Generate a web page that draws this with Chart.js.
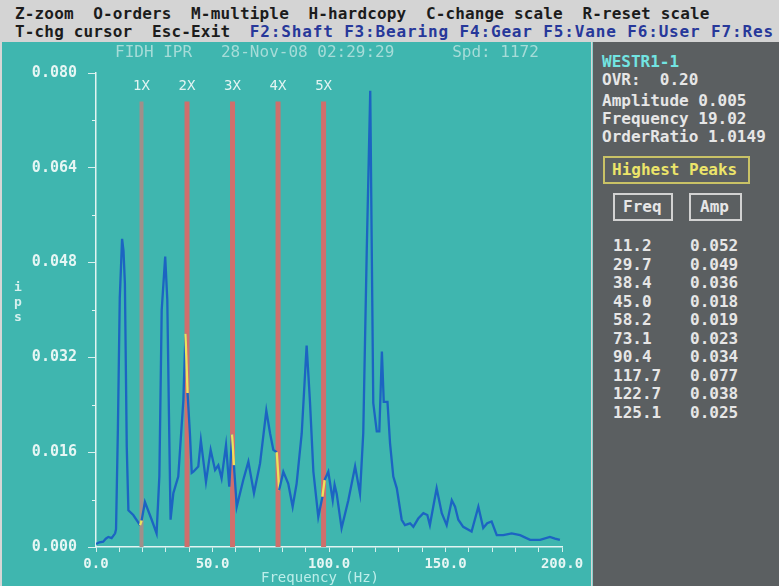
<!DOCTYPE html>
<html>
<head>
<meta charset="utf-8">
<script src="https://cdn.jsdelivr.net/npm/chart.js@4.4.1/dist/chart.umd.min.js"></script>
<style>
  body { margin: 0; background: #d6d6d6; width: 779px; height: 586px; overflow: hidden;
         font-family: "DejaVu Sans Mono", monospace; }
  #menu { position: absolute; left: 0; top: 0; width: 779px; height: 42px; background: #d4d4d4;
          font-weight: bold; font-size: 16px; color: #1c1c1c; white-space: pre; }
  #menu div { position: absolute; left: 15px; height: 18px; line-height: 18px; letter-spacing: 0.15px; }
  #menu .fk { color: #27389a; letter-spacing: 0.85px; }
  #plot { position: absolute; left: 2px; top: 42px; width: 589px; height: 544px; background: #3fb6af; }
  #panel { position: absolute; left: 592px; top: 42px; width: 187px; height: 544px; background: #5b5f61;
           border-left: 1px solid #8fcfcb; font-weight: bold; font-size: 16px; color: #e6e6e6; white-space: pre; }
  #panel .t { position: absolute; height: 18px; line-height: 18px; }
  #panel .box { position: absolute; border: 2px solid #d2d2d2; box-sizing: border-box; }
</style>
</head>
<body>
<div id="menu">
  <div style="top:5px">Z-zoom  O-orders  M-multiple  H-hardcopy  C-change scale  R-reset scale</div>
  <div style="top:23px">T-chg cursor  Esc-Exit  <span class="fk">F2:Shaft F3:Bearing F4:Gear F5:Vane F6:User F7:Res</span></div>
</div>
<div id="plot"><canvas id="myChart"></canvas></div>
<div id="panel"></div>
<script>
// Spectrum: frequency (Hz) and amplitude (ips)
const freqHz = [0.0, 1.5, 3.1, 4.2, 5.3, 6.7, 8.2, 8.6, 9.4, 10.2, 11.2, 11.8, 12.4, 13.2, 13.9,
  16.0, 18.9, 19.6, 21.0, 23.9, 26.0, 27.2, 28.2, 29.7, 30.6, 31.3, 32.0, 33.2, 35.3, 37.5,
  38.4, 39.3, 40.3, 41.1, 41.8, 43.9, 45.0, 47.2, 49.2, 51.1, 52.5, 53.9, 55.8, 57.2, 58.4,
  59.2, 60.4, 63.2, 65.4, 67.8, 70.4, 73.1, 74.7, 76.1, 77.6, 78.6, 80.4, 82.5, 84.4, 86.1,
  88.3, 90.4, 91.8, 93.3, 95.4, 97.2, 98.1, 99.7, 101.6, 102.4, 103.3, 105.4, 108.3, 111.2,
  113.3, 114.7, 116.2, 117.7, 118.3, 119.0, 120.5, 121.6, 122.7, 123.5, 125.1, 126.2, 127.6,
  129.1, 131.2, 132.6, 134.8, 136.2, 138.3, 140.5, 142.2, 143.3, 146.2, 148.4, 150.5, 152.7,
  154.1, 155.5, 157.6, 161.2, 164.1, 166.2, 167.9, 169.8, 172.0, 174.8, 178.4, 182.0, 186.3,
  190.6, 194.8, 197.0, 199.1];
const ampIps = [0.0005, 0.0008, 0.0009, 0.0014, 0.0017, 0.0015, 0.0023, 0.0030, 0.0200, 0.0420,
  0.0520, 0.0500, 0.0445, 0.0169, 0.0062, 0.0054, 0.0037, 0.0045, 0.0076, 0.0046, 0.0023,
  0.0120, 0.0400, 0.0490, 0.0417, 0.0226, 0.0046, 0.0091, 0.0119, 0.0248, 0.0360, 0.0260,
  0.0192, 0.0125, 0.0127, 0.0136, 0.0180, 0.0110, 0.0164, 0.0130, 0.0138, 0.0116, 0.0172,
  0.0102, 0.0190, 0.0138, 0.0068, 0.0113, 0.0144, 0.0091, 0.0141, 0.0230, 0.0192, 0.0164,
  0.0160, 0.0096, 0.0127, 0.0107, 0.0068, 0.0107, 0.0192, 0.0340, 0.0248, 0.0127, 0.0051,
  0.0085, 0.0113, 0.0127, 0.0079, 0.0105, 0.0090, 0.0032, 0.0079, 0.0136, 0.0090, 0.0192,
  0.0500, 0.0770, 0.0524, 0.0243, 0.0195, 0.0195, 0.0330, 0.0245, 0.0245, 0.0175, 0.0119,
  0.0099, 0.0046, 0.0037, 0.0040, 0.0034, 0.0048, 0.0057, 0.0054, 0.0037, 0.0099, 0.0057,
  0.0037, 0.0079, 0.0068, 0.0046, 0.0034, 0.0026, 0.0068, 0.0032, 0.0040, 0.0043, 0.0020,
  0.0020, 0.0023, 0.0020, 0.0012, 0.0012, 0.0017, 0.0014, 0.0012];

// Order lines (Spd 1172 rpm -> 1X = 19.53 Hz)
const orderLabels = ["1X", "2X", "3X", "4X", "5X"];
const orderHz = [19.53, 39.07, 58.60, 78.13, 97.67];
const orderTop = 0.0752;

// Right panel: highest peaks table
const peakFreqs = ["11.2", "29.7", "38.4", "45.0", "58.2", "73.1", "90.4", "117.7", "122.7", "125.1"];
const peakAmps = ["0.052", "0.049", "0.036", "0.018", "0.019", "0.023", "0.034", "0.077", "0.038", "0.025"];

const MONO = "'DejaVu Sans Mono', monospace";
const AXIS = "#e2f4f2";
const isMajorY = v => Math.round(v / 0.008) % 2 === 0;

// build the side panel
const panel = document.getElementById("panel");
function addText(txt, x, cy, color) {
  const d = document.createElement("div");
  d.className = "t";
  d.textContent = txt;
  d.style.left = (x - 592) + "px";
  d.style.top = (cy - 42 - 9) + "px";
  if (color) d.style.color = color;
  panel.appendChild(d);
}
function addBox(x, y, w, h, color) {
  const d = document.createElement("div");
  d.className = "box";
  d.style.left = (x - 592) + "px";
  d.style.top = (y - 42) + "px";
  d.style.width = w + "px";
  d.style.height = h + "px";
  if (color) d.style.borderColor = color;
  panel.appendChild(d);
}
addText("WESTR1-1", 601, 62, "#72e4e2");
addText("OVR:  0.20", 601, 80);
addText("Amplitude 0.005", 601, 101);
addText("Frequency 19.02", 601, 119);
addText("OrderRatio 1.0149", 601, 137);
addBox(602, 156, 147, 28, "#c9c266");
addText("Highest Peaks", 611, 170, "#ece46a");
addBox(612, 193, 60, 28);
addText("Freq", 622, 207);
addBox(688, 193, 53, 28);
addText("Amp", 699, 207);
for (let i = 0; i < peakFreqs.length; i++) {
  addText(peakFreqs[i], 612, 246 + i * 18.55);
  addText(peakAmps[i], 689, 246 + i * 18.55);
}

// extra texts on the plot: header, order labels, axis titles, short minor ticks
const plotText = {
  id: "plotText",
  afterDraw(chart) {
    const ctx = chart.ctx;
    const x = chart.scales.x;
    const y = chart.scales.y;
    ctx.save();
    ctx.strokeStyle = AXIS;
    ctx.lineWidth = 1;
    y.ticks.forEach(t => {
      if (isMajorY(t.value)) return;
      const py = Math.round(y.getPixelForValue(t.value)) + 0.5;
      ctx.beginPath();
      ctx.moveTo(x.left - 4, py);
      ctx.lineTo(x.left, py);
      ctx.stroke();
    });

    ctx.textBaseline = "middle";
    ctx.textAlign = "left";
    ctx.fillStyle = "#a6dcd8";
    ctx.font = "16px " + MONO;
    ctx.fillText("FIDH IPR   28-Nov-08 02:29:29      Spd: 1172", 113, 11);

    ctx.textAlign = "center";
    ctx.fillStyle = "#e2f4f2";
    ctx.font = "14px " + MONO;
    orderHz.forEach((f, i) => ctx.fillText(orderLabels[i], x.getPixelForValue(f), 44));

    ctx.font = "bold 13px " + MONO;
    ctx.fillStyle = "#d6f0ee";
    ["i", "p", "s"].forEach((c, i) => ctx.fillText(c, 16, 246 + i * 15));

    ctx.font = "14px " + MONO;
    ctx.fillStyle = "#bdeeea";
    ctx.fillText("Frequency (Hz)", 318, 536);
    ctx.restore();
  }
};

const datasets = [{
  label: "spectrum",
  data: freqHz.map((f, i) => ({ x: f, y: ampIps[i] })),
  borderColor: "#1c64c2",
  borderWidth: 2.3,
  pointRadius: 0,
  tension: 0,
  order: 0,
  segment: {
    borderColor: c => {
      const m = (c.p0.parsed.x + c.p1.parsed.x) / 2;
      return orderHz.some(f => Math.abs(m - f) < 0.6) ? "#ebe35c" : "#1c64c2";
    }
  }
}];
orderHz.forEach((f, i) => {
  datasets.push({
    label: orderLabels[i],
    data: [{ x: f, y: 0 }, { x: f, y: orderTop }],
    borderColor: i === 0 ? "#a08f8a" : "#cf6f6c",
    borderWidth: i === 0 ? 4 : 5,
    borderCapStyle: "butt",
    pointRadius: 0,
    order: 1
  });
});

new Chart(document.getElementById("myChart").getContext("2d"), {
  type: "line",
  data: { datasets: datasets },
  plugins: [plotText],
  options: {
    responsive: true,
    maintainAspectRatio: false,
    animation: false,
    layout: { padding: { top: 31, right: 29, left: 0, bottom: 0 } },
    plugins: { legend: { display: false }, tooltip: { enabled: false } },
    scales: {
      x: {
        type: "linear",
        min: 0, max: 200,
        offset: false,
        afterFit: s => { s.height = 39; },
        border: { display: true, color: AXIS, width: 1.5 },
        grid: { display: true, drawOnChartArea: false, tickLength: 5, color: "#d8f0ee" },
        ticks: {
          stepSize: 10, autoSkip: false, maxRotation: 0, padding: 4,
          color: "#e6f6f4",
          font: { family: MONO, size: 14, weight: "bold" },
          callback: v => (v % 50 === 0 ? v.toFixed(1) : "")
        }
      },
      y: {
        min: 0, max: 0.08,
        afterFit: s => { s.width = 94; },
        border: { display: true, color: AXIS, width: 1.5 },
        grid: {
          display: true, drawOnChartArea: false, tickLength: 8,
          color: c => (c.tick && isMajorY(c.tick.value) ? "#d8f0ee" : "rgba(0,0,0,0)")
        },
        ticks: {
          stepSize: 0.008, autoSkip: false, padding: 11,
          color: "#e6f6f4",
          font: { family: MONO, size: 15, weight: "bold" },
          callback: v => (isMajorY(v) ? v.toFixed(3) : "")
        }
      }
    }
  }
});
</script>
</body>
</html>
